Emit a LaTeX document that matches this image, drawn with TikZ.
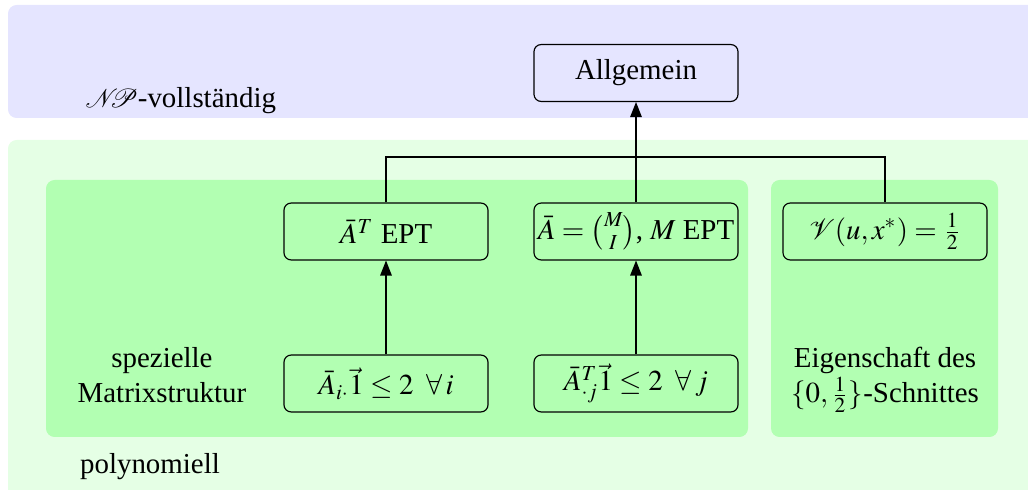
\documentclass[tikz,border=0pt]{standalone}
\usepackage{mathptmx}
\usepackage{amsmath}
\usepackage[no-math]{fontspec}
\setmainfont{Liberation Serif}
\usetikzlibrary{arrows.meta}
\tikzset{
  box/.style={draw, rounded corners=2.5pt, minimum width=70.6pt, minimum height=19.7pt, inner sep=0pt, line width=0.4pt},
  lbl/.style={align=center, inner sep=0pt},
  arr/.style={-{Triangle[length=5.2pt,width=4pt]}, line width=0.4pt},
  band/.style={rounded corners=3pt},
}
\begin{document}
\begin{tikzpicture}[x=0.346pt, y=-0.346pt]
\clip (0,0) rectangle (1028,490);
\fill[blue!10, band] (8,5) rectangle (1040,118);
\fill[green!10, band] (8,140) rectangle (1040,500);
\fill[green!30, band] (46,180) rectangle (748,437);
\fill[green!30, band] (771,180) rectangle (998,437);

\node[box] (allg) at (636,73) {Allgemein};
\node[box] (at) at (386,231.5) {$\bar A^T$ EPT};
\node[box] (ab) at (636,231.5) {$\bar A = \binom{M}{I}$, $M$ EPT};
\node[box] (v) at (885,231.5) {$\mathcal{V}(u,x^*) = \frac{1}{2}$};
\node[box] (ai) at (386,383.5) {$\bar A_{i\cdot}\vec{1} \le 2 \;\; \forall\, i$};
\node[box] (aj) at (636,383.5) {$\bar A_{\cdot j}^T\vec{1} \le 2 \;\; \forall\, j$};

\node[lbl, anchor=west] (np) at (85,101) {\small$\mathcal{N}\!\!\!\mathcal{P}$\normalsize-vollständig};
\node[lbl] (spez) at (162,375) {spezielle\\Matrixstruktur};
\node[lbl] (eig) at (885,380) {Eigenschaft des\\$\{0,\frac{1}{2}\}$-Schnittes};
\node[lbl] (poly) at (150,467) {polynomiell};

\coordinate (j) at (636,157);
\draw[line width=0.4pt] (at.north) |- (j) -| (v.north);
\draw[line width=0.4pt] (ab.north) -- (j);
\draw[arr] (j) -- (allg.south);
\draw[arr] (ai.north) -- (at.south);
\draw[arr] (aj.north) -- (ab.south);
\end{tikzpicture}
\end{document}
